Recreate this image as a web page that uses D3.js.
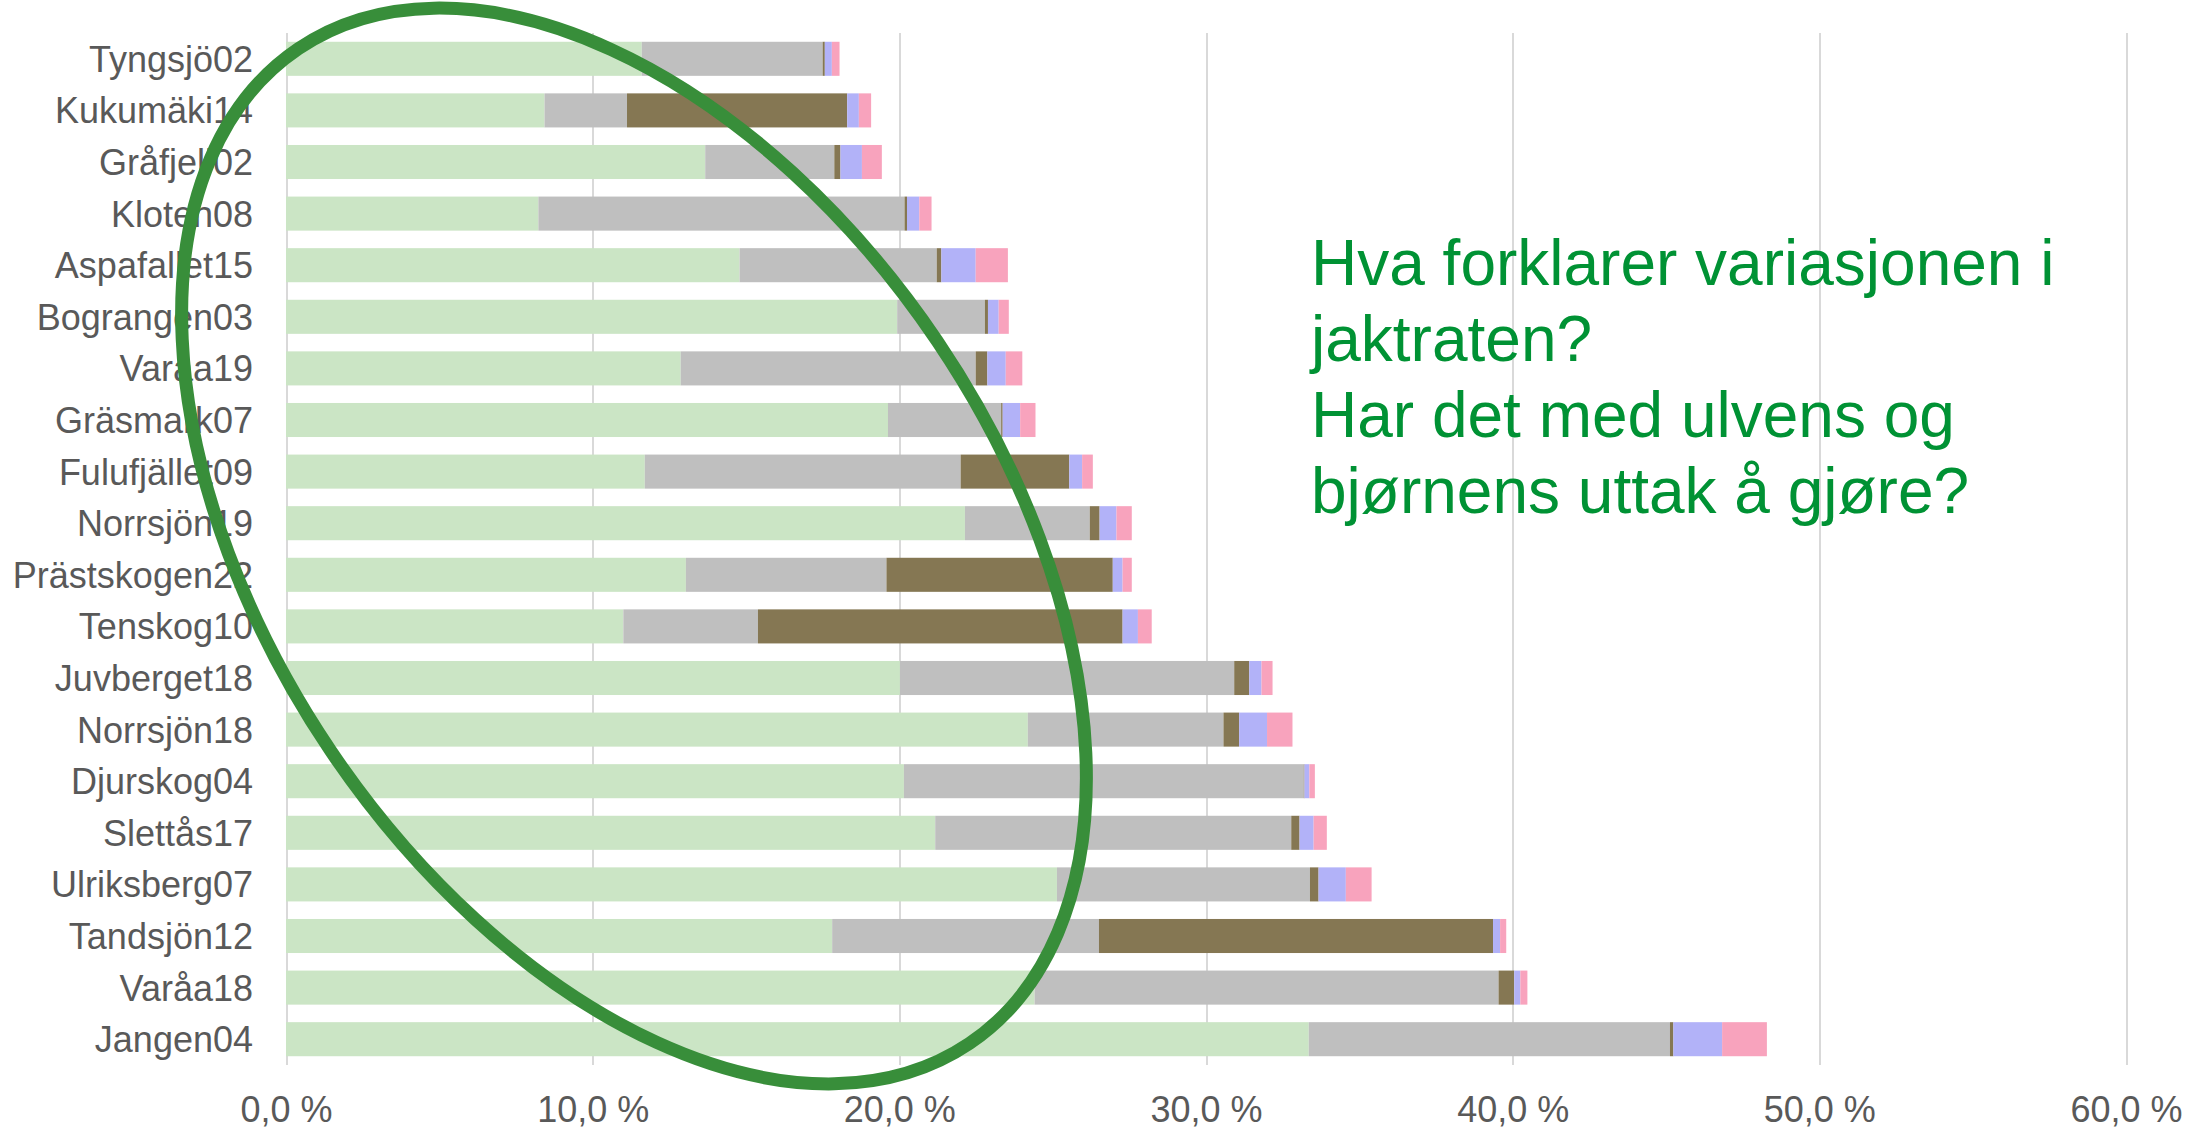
<!DOCTYPE html>
<meta charset="utf-8">
<style>
  body { margin: 0; background: #fff; }
  svg { display: block; font-family: "Liberation Sans", Arial, sans-serif; }
  .grid line { stroke: #d9d9d9; stroke-width: 2px; shape-rendering: crispEdges; }
  .grid path { display: none; }
  .cats text { font-size: 36px; fill: #595959; }
  .ticks text { font-size: 36px; fill: #595959; }
  .note { font-size: 64px; fill: #009234; }
</style>
<body>
<script src="https://cdn.jsdelivr.net/npm/d3@7"></script>
<script>
  // rows, top to bottom
  var categories = ["Tyngsjö02", "Kukumäki14", "Gråfjell02", "Kloten08", "Aspafallet15",
    "Bograngen03", "Varåa19", "Gräsmark07", "Fulufjället09", "Norrsjön19",
    "Prästskogen22", "Tenskog10", "Juvberget18", "Norrsjön18", "Djurskog04",
    "Slettås17", "Ulriksberg07", "Tandsjön12", "Varåa18", "Jangen04"];

  // stacked segments, in percent
  var seriesGreen = [11.6, 8.43, 13.67, 8.23, 14.79, 19.93, 12.87, 19.63, 11.7, 22.14,
    13.04, 11.0, 20.02, 24.19, 20.15, 21.17, 25.14, 17.81, 24.41, 33.35];
  var seriesGray = [5.9, 2.69, 4.21, 11.94, 6.43, 2.86, 9.62, 3.69, 10.3, 4.07,
    6.54, 4.39, 10.9, 6.38, 13.04, 11.61, 8.25, 8.7, 15.13, 11.78];
  var seriesBrown = [0.07, 7.18, 0.2, 0.08, 0.15, 0.1, 0.38, 0.05, 3.54, 0.32,
    7.38, 11.89, 0.49, 0.51, 0.02, 0.27, 0.28, 12.85, 0.51, 0.11];
  var seriesBlue = [0.23, 0.38, 0.7, 0.4, 1.12, 0.35, 0.6, 0.57, 0.42, 0.55,
    0.32, 0.5, 0.4, 0.91, 0.16, 0.46, 0.89, 0.23, 0.2, 1.59];
  var seriesPink = [0.25, 0.4, 0.65, 0.4, 1.05, 0.33, 0.54, 0.5, 0.35, 0.5,
    0.3, 0.45, 0.36, 0.83, 0.18, 0.43, 0.84, 0.2, 0.23, 1.46];

  var xTicks = [0, 0.1, 0.2, 0.3, 0.4, 0.5, 0.6];

  var noteLines = ["Hva forklarer variasjonen i", "jaktraten?",
    "Har det med ulvens og", "bjørnens uttak å gjøre?"];

  var keys = ["green", "gray", "brown", "blue", "pink"];
  var colors = {green: "#cbe5c5", gray: "#bfbfbf", brown: "#857753", blue: "#b2b2f8", pink: "#f8a3bd"};

  var rows = categories.map(function(c, i) {
    return {
      name: c,
      green: seriesGreen[i] / 100,
      gray: seriesGray[i] / 100,
      brown: seriesBrown[i] / 100,
      blue: seriesBlue[i] / 100,
      pink: seriesPink[i] / 100
    };
  });

  // note: "top" is taken by window.top, so plot edges get their own names
  var width = 2200, height = 1129,
      plotLeft = 286, plotRight = 2126, plotTop = 33, plotBottom = 1065;

  var svg = d3.select("body").append("svg")
    .attr("width", width)
    .attr("height", height);

  var x = d3.scaleLinear().domain([0, 0.6]).range([plotLeft, plotRight]);
  var y = d3.scaleBand().domain(categories).range([plotTop, plotBottom])
    .paddingInner(0.34).paddingOuter(0.17);

  // vertical gridlines
  svg.append("g")
    .attr("class", "grid")
    .attr("transform", "translate(0," + plotBottom + ")")
    .call(d3.axisBottom(x).tickValues(xTicks).tickSize(-(plotBottom - plotTop)).tickFormat(""));

  var stack = d3.stack().keys(keys)(rows);

  svg.append("g").selectAll("g")
    .data(stack)
    .join("g")
    .attr("fill", function(d) { return colors[d.key]; })
    .selectAll("rect")
    .data(function(d) { return d; })
    .join("rect")
    .attr("x", function(d) { return x(d[0]); })
    .attr("width", function(d) { return x(d[1]) - x(d[0]); })
    .attr("y", function(d) { return y(d.data.name); })
    .attr("height", y.bandwidth());

  // category labels
  var cats = svg.append("g")
    .attr("class", "cats")
    .attr("transform", "translate(" + plotLeft + ",0)")
    .call(d3.axisLeft(y).tickSize(0).tickPadding(33));
  cats.select(".domain").remove();
  cats.selectAll("text").attr("dy", "0.36em");
  cats.attr("font-family", null).attr("font-size", null);

  // x tick labels
  var fmt = d3.format(".1f");
  var ticks = svg.append("g")
    .attr("class", "ticks")
    .attr("transform", "translate(0," + plotBottom + ")")
    .call(d3.axisBottom(x).tickValues(xTicks).tickSize(0).tickPadding(31)
      .tickFormat(function(d) { return fmt(d * 100).replace(".", ",") + " %"; }));
  ticks.select(".domain").remove();
  ticks.attr("font-family", null).attr("font-size", null);

  // question text
  svg.append("text")
    .attr("class", "note")
    .selectAll("tspan")
    .data(noteLines)
    .join("tspan")
    .attr("x", 1311)
    .attr("y", function(d, i) { return 285 + i * 76; })
    .text(function(d) { return d; });

  // hand-drawn ring around the hunting share
  svg.append("ellipse")
    .attr("cx", 634)
    .attr("cy", 546)
    .attr("rx", 600)
    .attr("ry", 366)
    .attr("transform", "rotate(56,634,546)")
    .style("fill", "none")
    .style("stroke", "#388e3a")
    .style("stroke-width", "13px");
</script>
